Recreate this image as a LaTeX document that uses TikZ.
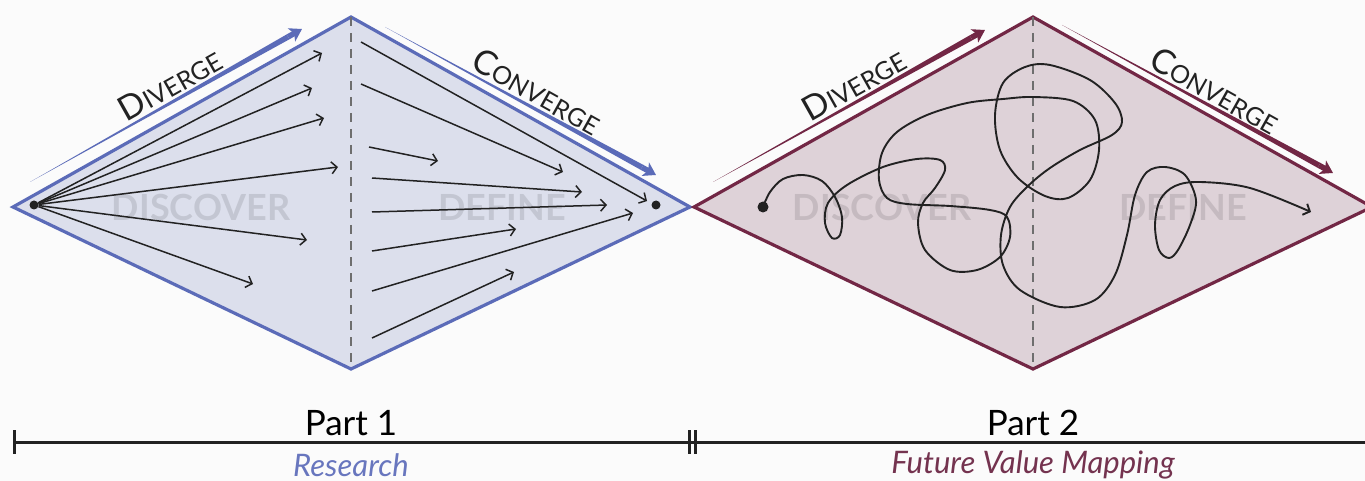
\documentclass[tikz,border=0pt]{standalone}
\usepackage{fontspec}
\setmainfont{Lato}
\usetikzlibrary{arrows.meta,calc}

% Word in faked small caps: big first letter, smaller rest
\newcommand{\capword}[2]{{\fontsize{34}{34}\selectfont #1}{\fontsize{25}{25}\selectfont #2}}

% Tapered arrow from (#1-start) to (#1-end)
\newcommand{\taperarrow}[2]{%
    \coordinate (#1-neck) at ($(#1-end)!16pt!(#1-start)$);
    \fill[#2] (#1-start) -- ($(#1-neck)!2.8pt!90:(#1-end)$) -- ($(#1-neck)!2.8pt!-90:(#1-end)$) -- cycle;
    \draw[#2, line width=5.6pt, -{Stealth[length=12pt,width=15pt,inset=3pt]}] (#1-neck) -- (#1-end);
}

\begin{document}
\begin{tikzpicture}[x=1pt, y=-1pt,
    fanarrow/.style={draw=inkColour, line width=1.5pt, -{Straight Barb[length=5.5pt,width=12pt]}},
    midline/.style={draw=dashColour, line width=2.2pt, dash pattern=on 9pt off 7pt},
    faded/.style={text=black, text opacity=0.11, inner sep=0pt, font=\fontsize{36}{36}\selectfont\bfseries},
    edgeword/.style={text=inkColour, anchor=base, inner sep=0pt},
    dotmark/.style={circle, fill=inkColour, inner sep=0pt, minimum size=#1},
    partlabel/.style={inner sep=0pt, font=\fontsize{35}{35}\selectfont},
    sublabel/.style={inner sep=0pt, font=\fontsize{31}{31}\selectfont\itshape}]

    \definecolor{bgColour}{HTML}{FBFBFB}
    \definecolor{inkColour}{HTML}{222222}
    \definecolor{dashColour}{HTML}{6E6E6E}
    \definecolor{lineColourA}{HTML}{5B6BB8}
    \definecolor{fillColourA}{HTML}{DCDFEC}
    \definecolor{textColourA}{HTML}{6876BE}
    \definecolor{lineColourB}{HTML}{722745}
    \definecolor{fillColourB}{HTML}{DED2D8}
    \definecolor{textColourB}{HTML}{74334F}

    % Canvas
    \useasboundingbox (0,0) rectangle (1365,481);
    \clip (0,0) rectangle (1365,481);
    \fill[bgColour] (0,0) rectangle (1365,481);

    % Diamond corners
    \coordinate (la) at (13,207);  \coordinate (ta) at (351,17);
    \coordinate (ra) at (690,207); \coordinate (ba) at (351,369);
    \coordinate (lb) at (694,207); \coordinate (tb) at (1033,17);
    \coordinate (rb) at (1372,207); \coordinate (bb) at (1033,369);

    % Draw diamonds
    \draw[fill=fillColourA, draw=lineColourA, line width=3.2pt, line join=miter] (la) -- (ta) -- (ra) -- (ba) -- cycle;
    \draw[fill=fillColourB, draw=lineColourB, line width=3.2pt, line join=miter] (lb) -- (tb) -- (rb) -- (bb) -- cycle;
    \draw[midline] (ta) -- (ba);
    \draw[midline] (tb) -- (bb);

    % Faded phase names
    \node[faded] (discA) at (201,207) {DISCOVER};
    \node[faded] (defA) at (502,207) {DEFINE};
    \node[faded] (discB) at (882,207) {DISCOVER};
    \node[faded] (defB) at (1183,207) {DEFINE};

    % Diverge and converge arrows
    \coordinate (dva-start) at (30,182);   \coordinate (dva-end) at (302,29);
    \coordinate (cva-start) at (385,27);   \coordinate (cva-end) at (656,175);
    \coordinate (dvb-start) at (713,182);  \coordinate (dvb-end) at (985,30);
    \coordinate (cvb-start) at (1062,25);  \coordinate (cvb-end) at (1333,173);
    \taperarrow{dva}{lineColourA}
    \taperarrow{cva}{lineColourA}
    \taperarrow{dvb}{lineColourB}
    \taperarrow{cvb}{lineColourB}

    \node[edgeword, rotate=29.3] (divA) at (176,95) {\capword{D}{IVERGE}};
    \node[edgeword, rotate=-29.3] (conA) at (531,102) {\capword{C}{ONVERGE}};
    \node[edgeword, rotate=29.3] (divB) at (860,95) {\capword{D}{IVERGE}};
    \node[edgeword, rotate=-29.3] (conB) at (1209,101) {\capword{C}{ONVERGE}};

    % Part 1: fan out from one point, then in to one point
    \node[dotmark=9pt] (srcA) at (34,205) {};
    \node[dotmark=9pt] (sinkA) at (656,205) {};
    \foreach \i/\x/\y in {1/322/53, 2/312/88, 3/324/118, 4/338/167, 5/307/240, 6/253/284} {
        \coordinate (out\i) at (\x,\y);
        \draw[fanarrow] (srcA) -- (out\i);
    }
    \foreach \i/\xa/\ya/\xb/\yb in {1/361/42/647/201, 2/361/84/563/172, 3/369/147/438/161,
            4/372/178/582/192, 5/372/212/607/205, 6/372/251/516/229,
            7/372/291/633/213, 8/372/338/514/272} {
        \coordinate (inS\i) at (\xa,\ya);
        \coordinate (inE\i) at (\xb,\yb);
        \draw[fanarrow] (inS\i) -- (inE\i);
    }

    % Part 2: one tangled path
    \node[dotmark=11pt] (srcB) at (763,207) {};
    \draw[fanarrow, line width=1.9pt] plot[smooth, tension=0.55] coordinates {
        (763,207) (770,192) (783,179) (803,175) (822,181) (835,197) (842,217) (840,235)
        (832,238) (825,223) (828,203) (847,185) (883,167) (917,159) (940,160) (945,170)
        (935,188) (923,203) (918,223) (925,250) (950,270) (977,270) (1000,257) (1010,237)
        (1007,217) (990,210) (950,206) (907,204) (887,198) (879,180) (882,153) (897,132)
        (927,115) (967,103) (1003,99) (1033,97) (1073,101) (1095,120) (1099,150) (1090,180)
        (1068,198) (1045,196) (1018,178) (1000,150) (995,115) (1003,83) (1025,67) (1050,65)
        (1090,80) (1115,103) (1122,122) (1112,135) (1080,150) (1050,168) (1028,186) (1010,207)
        (1001,235) (1003,265) (1020,290) (1060,307) (1095,300) (1115,275) (1127,235) (1135,195)
        (1147,172) (1165,167) (1185,175) (1196,200) (1190,225) (1178,250) (1169,258) (1159,250)
        (1155,225) (1160,200) (1175,186) (1200,182) (1250,188) (1311,212)};

    % Time line
    \coordinate (tlStart) at (14,442);
    \coordinate (tlEnd) at (1365,442);
    \draw[inkColour, line width=3pt] (tlStart) -- (tlEnd);
    \draw[inkColour, line width=3pt] (14,430) -- (14,454);
    \draw[inkColour, line width=3pt] (689,430) -- (689,454);
    \draw[inkColour, line width=3pt] (695,430) -- (695,454);

    % Part labels
    \node[partlabel] (partA) at (351,423) {Part 1};
    \node[partlabel] (partB) at (1033,423) {Part 2};
    \node[sublabel, text=textColourA] (nameA) at (351,465) {Research};
    \node[sublabel, text=textColourB] (nameB) at (1033,465) {Future Value Mapping};

\end{tikzpicture}
\end{document}
